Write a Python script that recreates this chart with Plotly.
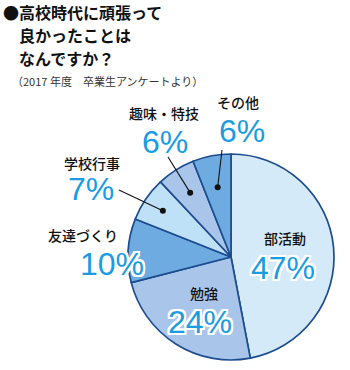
import math
import plotly.graph_objects as go

# ---- data ----
categories = ["部活動", "勉強", "友達づくり", "学校行事", "趣味・特技", "その他"]
values = [47, 24, 10, 7, 6, 6]
title_lines = ["●高校時代に頑張って", "良かったことは", "なんですか？"]
subtitle = "（2017 年度　卒業生アンケートより）"

# ---- styles / layout constants ----
slice_colors = ["#d5eaf9", "#a9c6ea", "#6dabe0", "#bfe1f7", "#a9c6ea", "#6dabe0"]
edge_color = "#1d4d8f"
pct_color = "#1b9ce2"
W, H = 350, 370
CX, CY, R = 231, 257, 103

title_pos = [(2, 12), (18, 35), (18, 58)]
# label centres (pixels) for category names and percentages
name_pos = [(285, 238), (204, 293), (83, 235), (92, 163), (164, 113), (238, 102)]
pct_pos = [(283, 268), (200, 322), (112, 264), (91, 189), (165, 142), (242, 131)]
# leader lines: index -> (radial fraction of dot, outer end point)
leaders = {3: (0.80, (119, 190)), 4: (0.74, (168, 157)), 5: (0.69, (222, 150))}

fig = go.Figure()
fig.add_trace(go.Pie(
    labels=categories, values=values, sort=False, direction="clockwise",
    rotation=0, textinfo="none", hoverinfo="skip",
    marker=dict(colors=slice_colors, line=dict(color=edge_color, width=1.7)),
    domain=dict(x=[(CX - R) / W, (CX + R) / W], y=[1 - (CY + R) / H, 1 - (CY - R) / H]),
    showlegend=False,
))

shapes = []
total = sum(values)
cum = 0
mids = []
for v in values:
    mids.append((cum + v / 2) / total * 360)
    cum += v
for i, (frac, (ex, ey)) in leaders.items():
    a = math.radians(mids[i])
    dx = CX + frac * R * math.sin(a)
    dy = CY - frac * R * math.cos(a)
    shapes.append(dict(type="line", xref="x", yref="y", x0=ex, y0=ey, x1=dx, y1=dy,
                       line=dict(color="#111", width=1.1), layer="above"))
    shapes.append(dict(type="circle", xref="x", yref="y", x0=dx - 3, x1=dx + 3,
                       y0=dy - 3, y1=dy + 3, fillcolor="#111",
                       line=dict(color="#111", width=0), layer="above"))

ann = []
jp = "Noto Sans CJK JP"
for (tx, ty), line in zip(title_pos, title_lines):
    ann.append(dict(x=tx, y=ty, text=line, xanchor="left", yanchor="middle", borderpad=0,
                    font=dict(family=jp, size=16, color="#111", weight="bold")))
ann.append(dict(x=10, y=81, text=subtitle, xanchor="left", yanchor="middle",
                font=dict(family=jp, size=11, color="#333")))

outline = ",".join(f"{a}px {b}px 0 #fff" for a in (-2, -1, 0, 1, 2) for b in (-2, -1, 0, 1, 2) if (a, b) != (0, 0))
for i, c in enumerate(categories):
    nx, ny = name_pos[i]
    ann.append(dict(x=nx, y=ny, text=c, xanchor="center", yanchor="middle", borderpad=0,
                    font=dict(family=jp, size=14, color="#111", weight=500)))
    px, py = pct_pos[i]
    ann.append(dict(x=px, y=py, text=f"{values[i]}%", xanchor="center", yanchor="middle",
                    borderpad=0,
                    font=dict(family="Liberation Sans, Arial", size=32, color=pct_color,
                              shadow=outline)))
for a in ann:
    a.update(xref="x", yref="y", showarrow=False)

fig.update_layout(
    width=W, height=H, margin=dict(l=0, r=0, t=0, b=0),
    paper_bgcolor="white", plot_bgcolor="rgba(0,0,0,0)",
    xaxis=dict(range=[0, W], visible=False, domain=[0, 1], fixedrange=True),
    yaxis=dict(range=[H, 0], visible=False, domain=[0, 1], fixedrange=True),
    shapes=shapes, annotations=ann,
)
fig.write_html("out.html")
